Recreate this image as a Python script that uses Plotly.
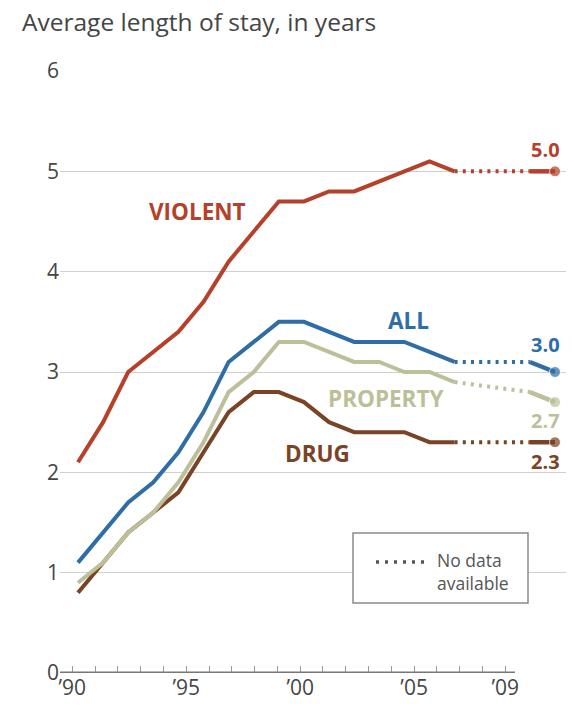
import plotly.graph_objects as go

years = list(range(1990, 2006))
violent = [2.1, 2.5, 3.0, 3.2, 3.4, 3.7, 4.1, 4.4, 4.7, 4.7, 4.8, 4.8, 4.9, 5.0, 5.1, 5.0]
all_ = [1.1, 1.4, 1.7, 1.9, 2.2, 2.6, 3.1, 3.3, 3.5, 3.5, 3.4, 3.3, 3.3, 3.3, 3.2, 3.1]
prop = [0.9, 1.1, 1.4, 1.6, 1.9, 2.3, 2.8, 3.0, 3.3, 3.3, 3.2, 3.1, 3.1, 3.0, 3.0, 2.9]
drug = [0.8, 1.1, 1.4, 1.6, 1.8, 2.2, 2.6, 2.8, 2.8, 2.7, 2.5, 2.4, 2.4, 2.4, 2.3, 2.3]

late_years = [2008, 2009]
late = {
    "VIOLENT": [5.0, 5.0],
    "ALL": [3.1, 3.0],
    "PROPERTY": [2.8, 2.7],
    "DRUG": [2.3, 2.3],
}
series = {"VIOLENT": violent, "ALL": all_, "PROPERTY": prop, "DRUG": drug}
colors = {"VIOLENT": "#b5412b", "ALL": "#2e6da6", "PROPERTY": "#bcbf98", "DRUG": "#7a4326"}

tick_years = list(range(1990, 2010))
tick_text = {1990: "’90", 1995: "’95", 2000: "’00", 2005: "’05", 2009: "’09"}

FONT = "Open Sans"
TXT = "#454545"

fig = go.Figure()
order = ["DRUG", "PROPERTY", "ALL", "VIOLENT"]
for name in order:
    vals = series[name]
    c = colors[name]
    fig.add_trace(go.Scatter(x=years, y=vals, mode="lines",
                             line=dict(color=c, width=4), showlegend=False,
                             hoverinfo="skip"))
    fig.add_trace(go.Scatter(x=[years[-1], late_years[0]], y=[vals[-1], late[name][0]],
                             mode="lines", line=dict(color=c, width=4, dash="3px,5.2px"),
                             showlegend=False, hoverinfo="skip"))
    fig.add_trace(go.Scatter(x=late_years, y=late[name], mode="lines+markers",
                             line=dict(color=c, width=4.5),
                             marker=dict(color=c, size=[0, 11]),
                             showlegend=False, hoverinfo="skip", cliponaxis=False))

# axis ticks (decorative scale)
fig.add_trace(go.Scatter(x=[tick_years[0]], y=[0], xaxis="x2", mode="markers",
                         marker=dict(size=0.1, opacity=0), showlegend=False, hoverinfo="skip"))

# series labels
label_pos = {"VIOLENT": (1994.74, 4.60), "ALL": (2003.18, 3.51),
             "PROPERTY": (2002.27, 2.74), "DRUG": (1999.52, 2.19)}
for name, (lx, ly) in label_pos.items():
    fig.add_annotation(x=lx, y=ly, xref="x", yref="y", text="<b>%s</b>" % name,
                       showarrow=False, font=dict(family=FONT, size=22.5, color=colors[name]))

end_pos = {"VIOLENT": 5.22, "ALL": 3.27, "PROPERTY": 2.52, "DRUG": 2.11}
for name, ly in end_pos.items():
    fig.add_annotation(x=2008.64, y=ly, xref="x", yref="y",
                       text="<b>%.1f</b>" % late[name][-1], showarrow=False,
                       font=dict(family=FONT, size=20, color=colors[name]))

W, H = 574, 708
L, R, T, B = 60, 8, 71, 35
pw, ph = W - L - R, H - T - B

def px(xp):
    return (xp - L) / pw

def py(yp):
    return (H - B - yp) / ph

# baseline
fig.add_shape(type="line", xref="paper", yref="y", x0=0, x1=px(515), y0=0, y1=0,
              line=dict(color="#777777", width=3), layer="above")

# legend box
fig.add_shape(type="rect", xref="paper", yref="paper", x0=px(353), x1=px(528),
              y0=py(603), y1=py(533), line=dict(color="#8a8a8a", width=1.5),
              fillcolor="white", layer="above")
fig.add_shape(type="line", xref="paper", yref="paper", x0=px(376), x1=px(430),
              y0=py(562), y1=py(562), line=dict(color="#555555", width=3.5, dash="3px,6px"),
              layer="above")
fig.add_annotation(xref="paper", yref="paper", x=px(435), y=py(571), xanchor="left",
                   yanchor="middle", align="left", text="No data<br>available",
                   showarrow=False, font=dict(family=FONT, size=17.5, color="#555555"))

fig.update_layout(
    width=W, height=H,
    margin=dict(l=L, r=R, t=T, b=B),
    paper_bgcolor="white", plot_bgcolor="white",
    title=dict(text="Average length of stay, in years", x=22 / W, xanchor="left",
               y=1 - 22 / H, yanchor="middle", xref="container", yref="container",
               font=dict(family=FONT, size=24.5, color=TXT)),
    xaxis=dict(range=[1989.283, 2009.438], visible=False),
    xaxis2=dict(range=[1989.46, 2011.663], overlaying="x", anchor="y", side="bottom",
                tickmode="array", tickvals=tick_years,
                ticktext=[tick_text.get(y, "") for y in tick_years],
                ticks="inside", ticklen=7, tickwidth=1, tickcolor="#9a9a9a",
                showgrid=False, zeroline=False, showline=False,
                tickfont=dict(family=FONT, size=21, color=TXT)),
    yaxis=dict(range=[0, 6], tickvals=[0, 1, 2, 3, 4, 5, 6], showgrid=True,
               gridcolor="#d0d0d0", gridwidth=1, zeroline=False, showline=False,
               ticks="", tickfont=dict(family=FONT, size=21, color=TXT)),
)

fig.write_html("out.html")
